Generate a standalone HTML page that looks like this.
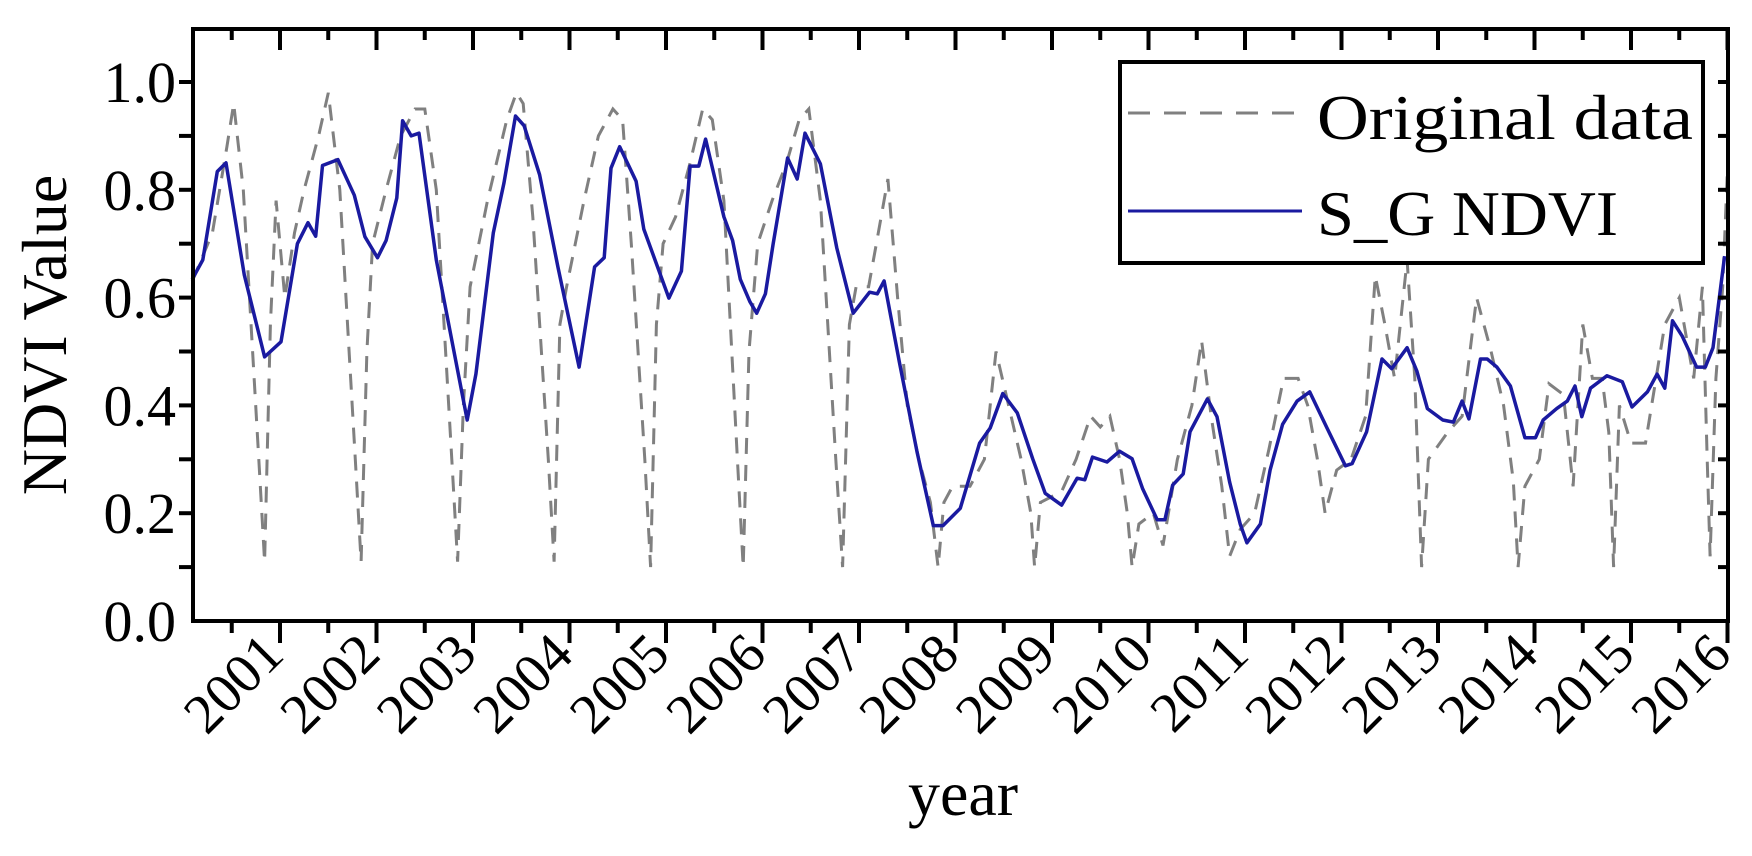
<!DOCTYPE html>
<html><head><meta charset="utf-8"><style>
html,body{margin:0;padding:0;background:#fff;}
svg{display:block;font-family:"Liberation Serif",serif;}
</style></head><body>
<svg id="chart" width="1752" height="856" viewBox="0 0 1752 856" xmlns="http://www.w3.org/2000/svg">
<rect width="1752" height="856" fill="#fff"/>
<g id="plot"></g>
<g id="axes"></g>
<text x="0" y="0" transform="translate(66,335) rotate(-90)" text-anchor="middle" font-size="64">NDVI Value</text>
<text x="963" y="815" text-anchor="middle" font-size="64">year</text>
<g>
<rect x="1120" y="62" width="583" height="201" fill="#fff" stroke="#000" stroke-width="4"/>
<line x1="1128" y1="113" x2="1302" y2="113" stroke="#808080" stroke-width="3" stroke-dasharray="22,14"/>
<text x="1317" y="139" font-size="63" textLength="376" lengthAdjust="spacingAndGlyphs">Original data</text>
<line x1="1128" y1="211" x2="1302" y2="211" stroke="#1a1aa0" stroke-width="3"/>
<text x="1317" y="235" font-size="63" textLength="301" lengthAdjust="spacingAndGlyphs">S_G NDVI</text>
</g>
</svg>
<script>
const yearLabels=["2001","2002","2003","2004","2005","2006","2007","2008","2009","2010","2011","2012","2013","2014","2015","2016"];
const yTickLabels=["0.0","0.2","0.4","0.6","0.8","1.0"];
const sgTime=[2000.09,2000.20,2000.35,2000.44,2000.63,2000.84,2001.01,2001.18,2001.29,2001.37,2001.44,2001.60,2001.77,2001.88,2002.01,2002.10,2002.21,2002.27,2002.36,2002.44,2002.62,2002.94,2003.03,2003.21,2003.32,2003.44,2003.53,2003.69,2003.88,2004.10,2004.26,2004.36,2004.43,2004.52,2004.69,2004.77,2005.03,2005.16,2005.25,2005.34,2005.41,2005.60,2005.69,2005.77,2005.87,2005.94,2006.03,2006.11,2006.26,2006.36,2006.44,2006.60,2006.77,2006.94,2007.11,2007.19,2007.26,2007.42,2007.60,2007.77,2007.87,2008.05,2008.25,2008.36,2008.49,2008.64,2008.80,2008.93,2009.10,2009.26,2009.34,2009.42,2009.57,2009.70,2009.83,2009.94,2010.09,2010.17,2010.25,2010.36,2010.43,2010.61,2010.71,2010.84,2010.95,2011.02,2011.16,2011.26,2011.39,2011.54,2011.67,2011.85,2012.04,2012.11,2012.26,2012.42,2012.52,2012.68,2012.78,2012.89,2013.05,2013.16,2013.25,2013.32,2013.44,2013.51,2013.61,2013.75,2013.90,2014.01,2014.09,2014.23,2014.34,2014.42,2014.49,2014.58,2014.75,2014.91,2015.01,2015.17,2015.27,2015.35,2015.43,2015.53,2015.68,2015.77,2015.85,2015.97];
const sgValue=[0.634,0.670,0.834,0.850,0.642,0.490,0.518,0.700,0.739,0.714,0.845,0.856,0.790,0.713,0.674,0.706,0.785,0.928,0.900,0.905,0.670,0.373,0.458,0.720,0.812,0.937,0.919,0.828,0.657,0.471,0.657,0.674,0.840,0.880,0.816,0.727,0.599,0.649,0.844,0.844,0.894,0.750,0.706,0.634,0.592,0.571,0.607,0.699,0.859,0.820,0.905,0.848,0.692,0.571,0.610,0.607,0.631,0.479,0.315,0.177,0.177,0.209,0.330,0.358,0.422,0.386,0.301,0.237,0.215,0.265,0.262,0.304,0.295,0.315,0.301,0.245,0.188,0.188,0.252,0.273,0.351,0.412,0.379,0.258,0.180,0.145,0.180,0.280,0.365,0.408,0.425,0.358,0.288,0.292,0.351,0.486,0.468,0.507,0.464,0.394,0.373,0.369,0.408,0.375,0.486,0.486,0.471,0.436,0.340,0.340,0.373,0.394,0.408,0.436,0.379,0.432,0.455,0.444,0.397,0.425,0.458,0.432,0.557,0.529,0.471,0.471,0.507,0.677];
const origTime=[2000.09,2000.30,2000.45,2000.52,2000.62,2000.78,2000.84,2000.90,2000.96,
2001.05,2001.15,2001.25,2001.40,2001.50,2001.62,2001.78,2001.84,2001.90,2001.96,
2002.10,2002.25,2002.40,2002.50,2002.62,2002.78,2002.84,2002.90,2002.97,
2003.15,2003.35,2003.45,2003.52,2003.62,2003.78,2003.84,2003.90,2003.97,
2004.15,2004.30,2004.45,2004.55,2004.64,2004.78,2004.84,2004.90,2004.97,
2005.10,2005.25,2005.38,2005.48,2005.60,2005.74,2005.80,2005.86,2005.95,
2006.10,2006.25,2006.38,2006.48,2006.60,2006.76,2006.83,2006.90,2006.97,
2007.10,2007.20,2007.30,2007.40,2007.50,2007.62,2007.74,2007.82,2007.88,2007.97,
2008.15,2008.30,2008.42,2008.55,2008.68,2008.78,2008.82,2008.88,
2009.10,2009.25,2009.40,2009.50,2009.60,2009.70,2009.78,2009.83,2009.90,
2010.05,2010.15,2010.30,2010.45,2010.55,2010.65,2010.76,2010.84,2010.95,
2011.10,2011.25,2011.40,2011.55,2011.65,2011.75,2011.83,2011.95,
2012.10,2012.25,2012.35,2012.45,2012.55,2012.68,2012.76,2012.83,2012.90,
2013.10,2013.25,2013.40,2013.55,2013.68,2013.78,2013.83,2013.90,
2014.05,2014.15,2014.30,2014.40,2014.50,2014.60,2014.70,2014.77,2014.82,2014.88,
2015.00,2015.15,2015.35,2015.50,2015.65,2015.74,2015.79,2015.82,2015.88,2015.95,2016.00];
const origValue=[0.63,0.72,0.88,0.96,0.80,0.30,0.11,0.55,0.78,
0.60,0.72,0.80,0.90,0.98,0.80,0.30,0.11,0.50,0.70,
0.80,0.90,0.95,0.95,0.80,0.30,0.11,0.40,0.62,
0.78,0.93,0.98,0.96,0.75,0.30,0.11,0.55,0.62,
0.78,0.90,0.95,0.93,0.70,0.30,0.10,0.55,0.70,
0.75,0.85,0.95,0.93,0.78,0.30,0.10,0.50,0.70,
0.78,0.85,0.93,0.95,0.78,0.30,0.10,0.55,0.62,
0.62,0.72,0.82,0.60,0.40,0.30,0.22,0.10,0.22,0.25,
0.25,0.30,0.50,0.40,0.30,0.20,0.10,0.22,
0.24,0.30,0.38,0.36,0.38,0.30,0.20,0.10,0.18,
0.20,0.14,0.30,0.40,0.52,0.38,0.25,0.12,0.17,
0.20,0.32,0.45,0.45,0.40,0.30,0.20,0.28,
0.30,0.38,0.64,0.55,0.45,0.67,0.45,0.10,0.30,
0.35,0.38,0.60,0.50,0.40,0.26,0.10,0.25,
0.30,0.44,0.42,0.25,0.55,0.45,0.45,0.35,0.10,0.40,
0.33,0.33,0.55,0.60,0.45,0.62,0.30,0.12,0.45,0.62,0.84];

const L=193,R=1728,T=29,B=621;
function xScale(t){return 280+(t-2001)*96.5;}
function yScale(v){return B-v*539;}
const NS="http://www.w3.org/2000/svg";
function mk(tag,parent){const e=document.createElementNS(NS,tag);parent.appendChild(e);return e;}
const plot=document.getElementById('plot'),axes=document.getElementById('axes');

let d="";
origTime.forEach((t,i)=>{d+=(i?"L":"M")+xScale(t).toFixed(1)+","+yScale(origValue[i]).toFixed(1);});
const op=mk('path',plot);


op.setAttribute('d',d);op.setAttribute('fill','none');op.setAttribute('stroke','#808080');op.setAttribute('stroke-width','3');op.setAttribute('stroke-dasharray','16,11');

d="";
sgTime.forEach((t,i)=>{d+=(i?"L":"M")+xScale(t).toFixed(1)+","+yScale(sgValue[i]).toFixed(1);});
const sp=mk('path',plot);


sp.setAttribute('d',d);sp.setAttribute('fill','none');sp.setAttribute('stroke','#1a1aa0');sp.setAttribute('stroke-width','3.5');sp.setAttribute('stroke-linejoin','round');

const frame=mk('rect',axes);


frame.setAttribute('x',L);frame.setAttribute('y',T);frame.setAttribute('width',R-L);frame.setAttribute('height',B-T);
frame.setAttribute('fill','none');frame.setAttribute('stroke','#000');frame.setAttribute('stroke-width','4');

function line(x1,y1,x2,y2,name){const l=mk('line',axes);


l.setAttribute('x1',x1);l.setAttribute('y1',y1);l.setAttribute('x2',x2);l.setAttribute('y2',y2);l.setAttribute('stroke','#000');l.setAttribute('stroke-width','4');}

for(let k=-1;k<=yearLabels.length*2;k++){
  const t=2001+k/2, x=xScale(t);
  if(x<L-1||x>R+1)continue;
  const major=(k%2===0);
  line(x,B,x,B+(major?22:12),'x-tick');
  line(x,T,x,T+(major?21:11),'x-tick-top');
}
yearLabels.forEach((lab,i)=>{
  const x=xScale(2001+i);
  const tx=mk('text',axes);
  
  
  tx.setAttribute('transform','translate('+(x+6)+','+(B+36)+') rotate(-45)');
  tx.setAttribute('text-anchor','end');tx.setAttribute('font-size','56');tx.textContent=lab;
});
for(let k=1;k<=10;k++){
  const y=yScale(k/10);
  line(L-14,y,L,y,'y-tick');
  line(R-10,y,R,y,'y-tick-right');
}
yTickLabels.forEach((lab,i)=>{
  const tx=mk('text',axes);
  
  
  tx.setAttribute('x',176);tx.setAttribute('y',yScale(i*0.2)+20);
  tx.setAttribute('text-anchor','end');tx.setAttribute('font-size','58');tx.textContent=lab;
});
</script>
</body></html>
